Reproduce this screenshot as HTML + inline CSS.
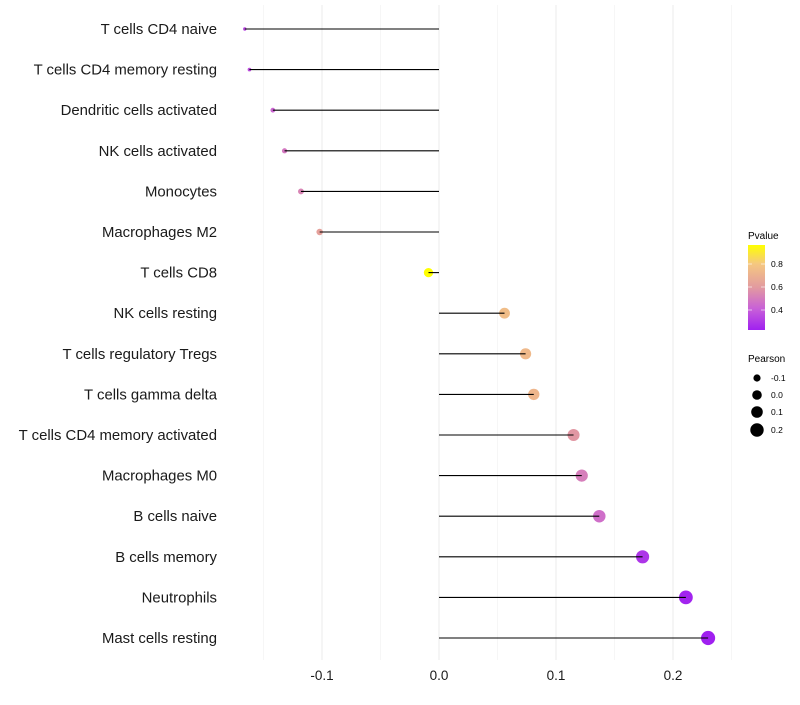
<!DOCTYPE html>
<html><head><meta charset="utf-8"><style>
body{margin:0;background:#fff;font-family:"Liberation Sans",sans-serif}
</style></head><body>
<svg id="chart" width="800" height="700" xmlns="http://www.w3.org/2000/svg" font-family="Liberation Sans, sans-serif">
<defs><linearGradient id="pg" x1="0" y1="1" x2="0" y2="0">
<stop offset="0" stop-color="#a020f0"/><stop offset="0.25" stop-color="#c860d8"/><stop offset="0.5" stop-color="#e29aa0"/><stop offset="0.78" stop-color="#f5c880"/><stop offset="1" stop-color="#ffff00"/></linearGradient></defs>
<g id="grid"></g>
<g id="marks"></g>
<g id="stems"></g>
<g id="ylabels"></g>
<g id="xlabels"></g>
<g>
<text x="748" y="239" font-size="10" fill="#000">Pvalue</text>
<rect x="748" y="245" width="17" height="85" fill="url(#pg)"/>
<g stroke="#fff" stroke-opacity="0.6"><line x1="748" x2="752" y1="264" y2="264"/><line x1="761" x2="765" y1="264" y2="264"/><line x1="748" x2="752" y1="287" y2="287"/><line x1="761" x2="765" y1="287" y2="287"/><line x1="748" x2="752" y1="310" y2="310"/><line x1="761" x2="765" y1="310" y2="310"/></g>
<text x="771" y="267" font-size="8.5">0.8</text><text x="771" y="290" font-size="8.5">0.6</text><text x="771" y="313" font-size="8.5">0.4</text>
</g>
<g>
<text x="748" y="362" font-size="10">Pearson</text>
<circle cx="757" cy="378" r="3.6"/><text x="771" y="381" font-size="8.5">-0.1</text>
<circle cx="757" cy="395" r="4.8"/><text x="771" y="398" font-size="8.5">0.0</text>
<circle cx="757" cy="412" r="5.8"/><text x="771" y="415" font-size="8.5">0.1</text>
<circle cx="757" cy="430" r="6.7"/><text x="771" y="433" font-size="8.5">0.2</text>
</g>
</svg>
<script>
const categories=["T cells CD4 naive","T cells CD4 memory resting","Dendritic cells activated","NK cells activated","Monocytes","Macrophages M2","T cells CD8","NK cells resting","T cells regulatory  Tregs","T cells gamma delta","T cells CD4 memory activated","Macrophages M0","B cells naive","B cells memory","Neutrophils","Mast cells resting"];
const pearson=[-0.166,-0.162,-0.142,-0.132,-0.118,-0.102,-0.009,0.056,0.074,0.081,0.115,0.122,0.137,0.174,0.211,0.230];
const pvalue=[0.33,0.35,0.42,0.48,0.52,0.62,0.96,0.75,0.73,0.72,0.58,0.50,0.45,0.28,0.23,0.22];
const xTicks=[-0.1,0.0,0.1,0.2];
const xTickLabels=["-0.1","0.0","0.1","0.2"];
const xMinor=[-0.15,-0.05,0.05,0.15,0.25];
const NS="http://www.w3.org/2000/svg";
const xs=v=>439+v*1170;
const ys=i=>29+i*(638-29)/(categories.length-1);
function mk(tag,attrs,parent){const e=document.createElementNS(NS,tag);for(const k in attrs)e.setAttribute(k,attrs[k]);document.getElementById(parent).appendChild(e);return e;}
const stops=[[0.22,[160,32,240]],[0.40,[200,96,216]],[0.59,[226,154,160]],[0.80,[245,200,128]],[0.96,[255,255,0]]];
function col(p){p=Math.max(0.22,Math.min(0.96,p));for(let k=0;k<stops.length-1;k++){const a=stops[k],b=stops[k+1];if(p<=b[0]){const t=(p-a[0])/(b[0]-a[0]);return 'rgb('+a[1].map((c,j)=>Math.round(c+(b[1][j]-c)*t))+')';}}return 'rgb(255,255,0)';}
const pmin=Math.min(...pearson),pmax=Math.max(...pearson);
function rad(v){const t=(v-pmin)/(pmax-pmin);return Math.sqrt(1.7*1.7+t*(50-2.9));}
xMinor.forEach(v=>{const l=mk('line',{x1:xs(v),x2:xs(v),y1:5,y2:660,stroke:'#f0f0f0','stroke-width':0.6},'grid');

});
xTicks.forEach((v,i)=>{const l=mk('line',{x1:xs(v),x2:xs(v),y1:5,y2:660,stroke:'#ebebeb','stroke-width':1},'grid');


const t=mk('text',{x:xs(v),y:680,'text-anchor':'middle','font-size':13.5,fill:'#1a1a1a'},'xlabels');t.textContent=xTickLabels[i];

});
categories.forEach((c,i)=>{const y=ys(i);
const t=mk('text',{x:217,y:y+5,'text-anchor':'end','font-size':14.9,fill:'#1a1a1a'},'ylabels');t.textContent=c;


const d=mk('circle',{cx:xs(pearson[i]),cy:y,r:rad(pearson[i]),fill:col(pvalue[i])},'marks');


const l=mk('line',{x1:xs(0),x2:xs(pearson[i]),y1:y,y2:y,stroke:'#000','stroke-width':1.1},'stems');

});
</script>
</body></html>
